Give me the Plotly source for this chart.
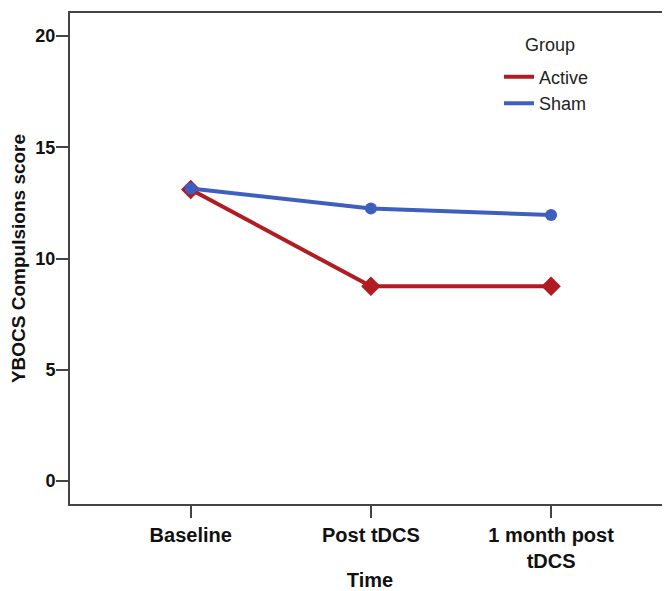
import plotly.graph_objects as go

time_points = ["Baseline", "Post tDCS", "1 month post<br>tDCS"]
active_scores = [13.1, 8.75, 8.75]
sham_scores = [13.15, 12.25, 11.95]
y_ticks = [0, 5, 10, 15, 20]

RED = "#b01c22"
BLUE = "#3f5fbf"
AXIS = "#444444"
FONT = "Liberation Sans, Arial, sans-serif"

fig = go.Figure()
x_idx = list(range(len(time_points)))

for name, vals, col, sym, sz in [
    ("Active", active_scores, RED, "diamond", 15),
    ("Sham", sham_scores, BLUE, "circle", 12),
]:
    fig.add_trace(go.Scatter(x=x_idx, y=vals, mode="lines", name=name,
                             line=dict(color=col, width=4), showlegend=True))
    fig.add_trace(go.Scatter(x=x_idx, y=vals, mode="markers", name=name,
                             marker=dict(color=col, symbol=sym, size=sz),
                             showlegend=False))

# page has an 8px body margin, so the figure is 8px smaller than the window
fig.update_layout(
    width=662, height=583,
    margin=dict(l=62, r=0, t=5, b=87),
    paper_bgcolor="white", plot_bgcolor="white",
    font=dict(family=FONT, color="#111111"),
    showlegend=True,
    legend=dict(
        font=dict(size=18, color="#222"),
        x=0.715, y=0.907, xanchor="left", yanchor="top",
        bgcolor="rgba(0,0,0,0)", tracegroupgap=0, itemwidth=30,
    ),
    annotations=[dict(
        text="Group", xref="paper", yref="paper", x=0.80, y=0.935,
        xanchor="center", yanchor="middle", showarrow=False,
        font=dict(size=18, color="#222"),
    )],
    xaxis=dict(
        range=[-0.67, 2.66],
        tickmode="array", tickvals=x_idx, ticktext=time_points,
        showline=True, linecolor=AXIS, linewidth=2, mirror=True,
        ticks="outside", ticklen=12, tickcolor=AXIS, tickwidth=2,
        showgrid=False, zeroline=False, automargin=False,
        tickfont=dict(size=20, family=FONT, color="#111", weight="bold"),
        title=dict(text="<b>Time</b>", font=dict(size=20), standoff=2),
    ),
    yaxis=dict(
        range=[-1.03, 21.03],
        tickmode="array", tickvals=y_ticks,
        showline=True, linecolor=AXIS, linewidth=2,
        ticks="outside", ticklen=12, tickcolor=AXIS, tickwidth=2,
        showgrid=False, zeroline=False, automargin=False,
        ticklabelstandoff=-3,
        tickfont=dict(size=18, family=FONT, color="#111", weight="bold"),
        title=dict(text="<b>YBOCS Compulsions score</b>", font=dict(size=19), standoff=10),
    ),
)

fig.write_html("out.html")
